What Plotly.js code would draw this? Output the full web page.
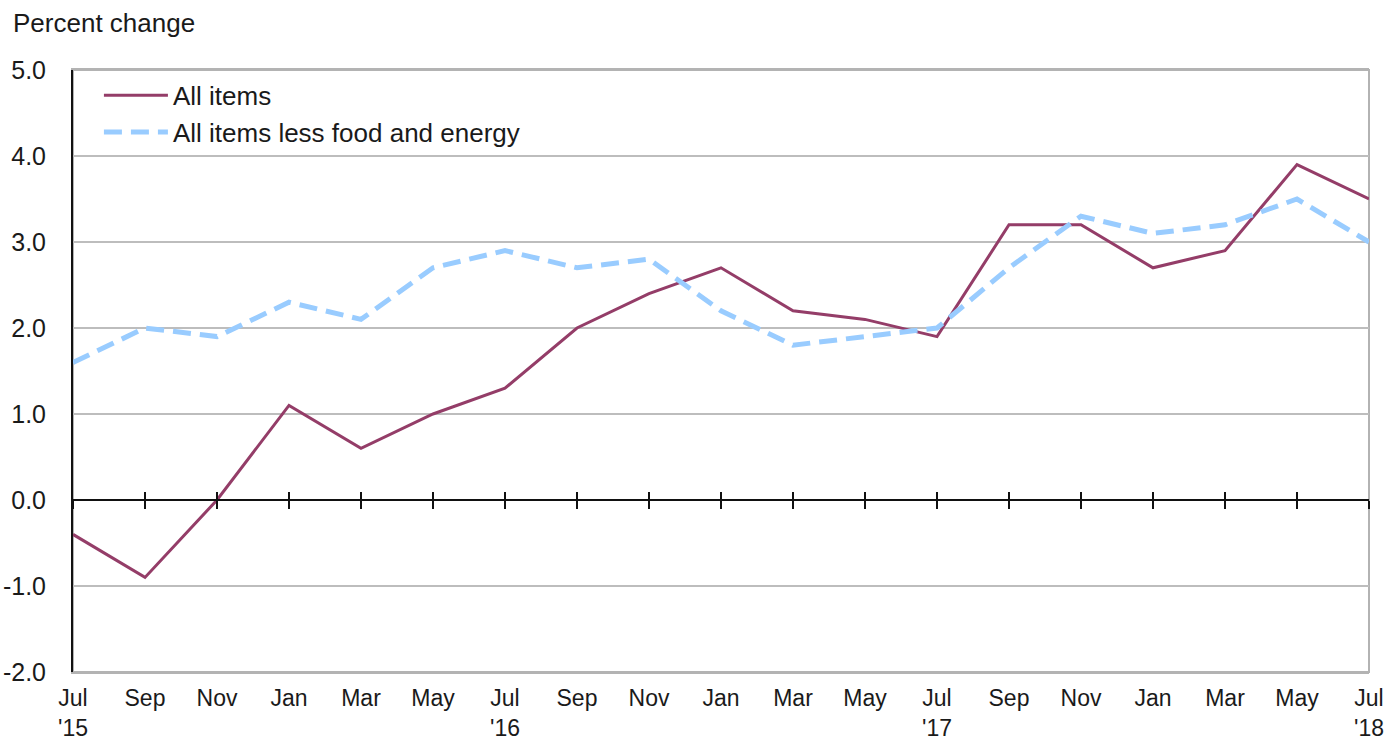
<!DOCTYPE html>
<html>
<head>
<meta charset="utf-8">
<script src="https://cdn.plot.ly/plotly-3.0.1.min.js"></script>
<style>html,body{margin:0;padding:0;background:#fff;}#chart{width:1390px;height:744px;}</style>
</head>
<body>
<div id="chart"></div>
<script>
const periods = ["2015-07","2015-09","2015-11","2016-01","2016-03","2016-05","2016-07","2016-09","2016-11","2017-01","2017-03","2017-05","2017-07","2017-09","2017-11","2018-01","2018-03","2018-05","2018-07"];
const tickLabels = ["Jul<br>'15","Sep","Nov","Jan","Mar","May","Jul<br>'16","Sep","Nov","Jan","Mar","May","Jul<br>'17","Sep","Nov","Jan","Mar","May","Jul<br>'18"];
const allItems = [-0.4,-0.9,0.0,1.1,0.6,1.0,1.3,2.0,2.4,2.7,2.2,2.1,1.9,3.2,3.2,2.7,2.9,3.9,3.5];
const coreItems = [1.6,2.0,1.9,2.3,2.1,2.7,2.9,2.7,2.8,2.2,1.8,1.9,2.0,2.7,3.3,3.1,3.2,3.5,3.0];
const seriesNames = ["All items","All items less food and energy"];
const yTicks = [-2,-1,0,1,2,3,4,5];
const yTickText = ["-2.0","-1.0","0.0","1.0","2.0","3.0","4.0","5.0"];

const font = {family: "Liberation Sans, Arial, sans-serif", size: 25, color: "#1a1a1a"};
const xFont = {family: "Liberation Sans, Arial, sans-serif", size: 23, color: "#1a1a1a"};
const legendFont = {family: "Liberation Sans, Arial, sans-serif", size: 26, color: "#1a1a1a"};
const idx = periods.map((_, i) => i);

const traces = [
  {x: periods, y: allItems, name: seriesNames[0], type: "scatter", mode: "lines",
   line: {color: "#943d68", width: 3}, hoverinfo: "x+y"},
  {x: periods, y: coreItems, name: seriesNames[1], type: "scatter", mode: "lines",
   line: {color: "#99ccff", width: 5, dash: "18px,9px"}, hoverinfo: "x+y"},
  {x: idx, y: idx.map(() => null), xaxis: "x2", showlegend: false, hoverinfo: "skip", type: "scatter", mode: "lines"},
  {x: idx, y: idx.map(() => null), xaxis: "x3", showlegend: false, hoverinfo: "skip", type: "scatter", mode: "lines"}
];

const zeroPos = (0 - yTicks[0]) / (yTicks[yTicks.length-1] - yTicks[0]);

const layout = {
  width: 1390, height: 744,
  margin: {l: 73, r: 21, t: 70, b: 72},
  paper_bgcolor: "#fff", plot_bgcolor: "#fff",
  font: font,
  showlegend: true,
  legend: {x: 0.02, y: 0.997, xanchor: "left", yanchor: "top", bgcolor: "rgba(0,0,0,0)",
           font: legendFont, itemwidth: 64, tracegroupgap: 0},
  xaxis: {type: "category", range: [0, periods.length - 1], tickvals: periods, ticktext: tickLabels,
          showgrid: false, zeroline: false, showline: true, linecolor: "#b3b3b3", linewidth: 2,
          mirror: true, ticks: "", tickfont: xFont, ticklabelstandoff: 4},
  xaxis2: {overlaying: "x", anchor: "free", position: zeroPos, range: [0, periods.length - 1],
           tickvals: idx, showticklabels: false, ticks: "outside", ticklen: 8, tickwidth: 2, tickcolor: "#111",
           showline: true, linecolor: "#111", linewidth: 2, showgrid: false, zeroline: false, fixedrange: true},
  xaxis3: {overlaying: "x", anchor: "free", position: zeroPos, range: [0, periods.length - 1],
           tickvals: idx, showticklabels: false, ticks: "inside", ticklen: 8, tickwidth: 2, tickcolor: "#111",
           showline: false, showgrid: false, zeroline: false, fixedrange: true},
  yaxis: {range: [yTicks[0], yTicks[yTicks.length-1]], tickvals: yTicks, ticktext: yTickText,
          showgrid: true, gridcolor: "#bdbdbd", gridwidth: 1.5, zeroline: false,
          showline: true, linecolor: "#111", linewidth: 2, ticks: "", tickfont: font, ticklabelstandoff: 20},
  shapes: [{type: "rect", xref: "paper", yref: "paper", x0: 0, x1: 1, y0: 0, y1: 1,
            line: {color: "#b3b3b3", width: 2}, layer: "below"}],
  annotations: [{text: "Percent change", xref: "paper", yref: "paper", x: -0.048, y: 1.0, yshift: 47,
                 xanchor: "left", yanchor: "middle", showarrow: false, font: legendFont}]
};

Plotly.newPlot("chart", traces, layout, {displayModeBar: false, staticPlot: true});
</script>
</body>
</html>
